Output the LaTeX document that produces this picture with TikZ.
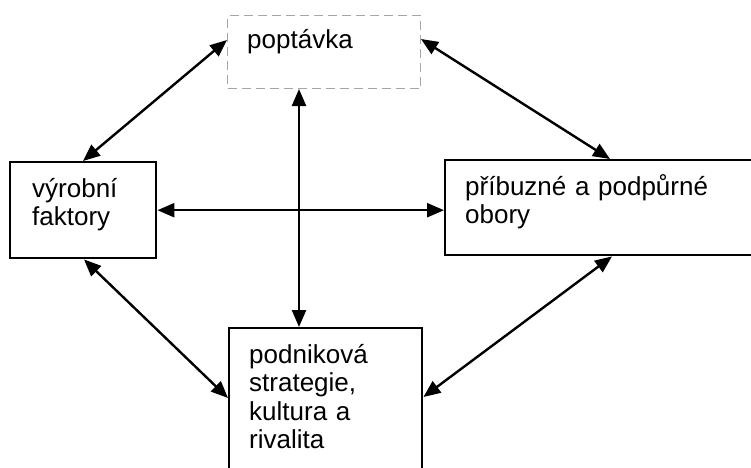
\documentclass[tikz,border=0pt]{standalone}
\usepackage{fontspec}
\setmainfont{Liberation Sans}
\usetikzlibrary{arrows.meta}

\tikzset{
  frame/.style={draw=black, line width=2.4pt, rectangle, inner sep=0pt},
  softframe/.style={draw=black!35, line width=1pt, dash pattern=on 9pt off 5pt, rectangle, inner sep=0pt},
  label/.style={anchor=base west, inner sep=0pt, align=left, text width=#1,
                font=\fontsize{26}{28.5}\selectfont},
  link/.style={line width=2.4pt,
               {Triangle[length=17pt,width=14pt]}-{Triangle[length=17pt,width=14pt]}}
}

\begin{document}
\begin{tikzpicture}[x=1pt,y=-1pt]
  \useasboundingbox (0,0) rectangle (751,467);

  % the four factors
  \node[softframe, anchor=north west, minimum width=193pt, minimum height=73pt] (demand) at (227,15) {};
  \node[frame, anchor=north west, minimum width=146pt, minimum height=96pt] (factors) at (9,161) {};
  \node[frame, anchor=north west, minimum width=314pt, minimum height=95pt] (related) at (444,159) {};
  \node[frame, anchor=north west, minimum width=193pt, minimum height=150pt] (strategy) at (228,327) {};

  % captions
  \node[label=150pt] (demandtext) at (247,48) {poptávka};
  \node[label=120pt] (factorstext) at (32,197) {výrobní\\faktory};
  \node[label=280pt] (relatedtext) at (465,195) {příbuzné a podpůrné\\obory};
  \node[label=170pt] (strategytext) at (249,363) {podniková\\strategie,\\kultura a\\rivalita};

  % mutual influences
  \draw[link] ([xshift=74pt]factors.north west) -- ([yshift=-25pt]demand.north west);
  \draw[link] ([yshift=-24pt]demand.north east) -- ([xshift=166pt]related.north west);
  \draw[link] (factors.east) -- (factors.east -| related.west);
  \draw[link] ([xshift=72pt]demand.south west) -- ([xshift=71pt]strategy.north west);
  \draw[link] ([xshift=75pt]factors.south west) -- ([yshift=-71pt]strategy.north west);
  \draw[link] ([xshift=168pt]related.south west) -- ([yshift=-70pt]strategy.north east);
\end{tikzpicture}
\end{document}
